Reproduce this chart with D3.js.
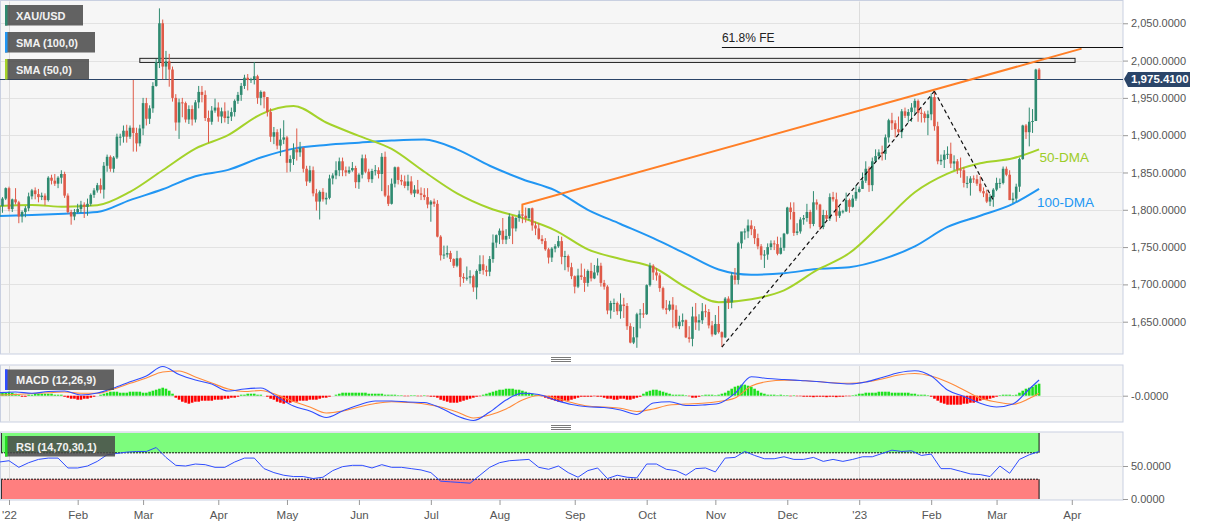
<!DOCTYPE html>
<html><head><meta charset="utf-8">
<script src="https://cdn.jsdelivr.net/npm/d3@7"></script>
<style>body{margin:0;background:#fff;} svg{display:block;font-family:"Liberation Sans",Arial,sans-serif;}</style>
</head><body><svg id="c" width="1207" height="526"></svg>
<script>
// ---------------- DATA ----------------
const firstDay = "2021-12-29";           // first candle (weekday calendar)
// daily candles [open, high, low, close]
const ohlc = [
// Dec 2021
[1791,1811,1789,1805],[1805,1817,1796,1815],[1815,1830,1813,1829],
// Jan 2022
[1829,1831,1798,1801],[1801,1815,1797,1814],[1814,1829,1807,1810],[1810,1812,1782,1791],[1791,1799,1783,1797],
[1797,1805,1790,1802],[1802,1823,1798,1818],[1818,1828,1814,1826],[1826,1830,1814,1821],[1821,1828,1810,1817],
[1817,1823,1813,1819],[1819,1822,1806,1813],[1813,1845,1811,1843],[1843,1847,1834,1839],[1839,1848,1832,1835],
[1835,1845,1829,1843],[1843,1853,1835,1848],[1848,1851,1816,1819],[1819,1822,1795,1797],[1797,1800,1780,1791],
[1791,1801,1786,1797],
// Feb 2022
[1797,1808,1795,1801],[1801,1812,1796,1807],[1807,1810,1789,1804],[1804,1815,1792,1808],
[1808,1822,1805,1820],[1820,1829,1816,1826],[1826,1836,1823,1833],[1833,1842,1822,1827],[1827,1864,1815,1859],
[1859,1874,1851,1871],[1871,1873,1851,1855],[1855,1872,1850,1870],[1870,1902,1868,1898],[1898,1902,1886,1898],
[1898,1913,1890,1906],[1906,1914,1890,1898],[1898,1913,1895,1910],[1910,1974,1878,1903],[1903,1910,1878,1889],
[1889,1914,1885,1909],
// Mar 2022
[1909,1950,1900,1943],[1943,1950,1913,1922],[1922,1940,1915,1936],[1936,1971,1930,1966],
[1966,2002,1965,1998],[1998,2070,1990,2050],[2050,2055,1975,1992],[1992,2013,1975,1999],[1999,2009,1965,1988],
[1988,1992,1945,1950],[1950,1955,1906,1917],[1917,1949,1895,1944],[1944,1950,1924,1943],[1943,1945,1917,1921],
[1921,1940,1915,1935],[1935,1940,1913,1921],[1921,1947,1917,1944],[1944,1966,1936,1958],[1958,1966,1944,1954],
[1954,1960,1919,1923],[1923,1933,1890,1918],[1918,1939,1914,1933],[1933,1949,1930,1937],
// Apr 2022
[1937,1944,1918,1925],
[1925,1937,1916,1932],[1932,1944,1917,1923],[1923,1933,1915,1925],[1925,1937,1919,1931],[1931,1948,1925,1946],
[1946,1958,1942,1954],[1954,1970,1946,1966],[1966,1981,1962,1977],[1977,1982,1960,1974],[1974,1977,1970,1975],
[1975,1998,1968,1979],[1979,1981,1942,1950],[1950,1960,1940,1958],[1958,1959,1936,1951],[1951,1951,1925,1931],
[1931,1936,1891,1898],[1898,1911,1888,1904],[1904,1908,1881,1886],[1886,1909,1872,1894],[1894,1920,1888,1897],
// May 2022
[1897,1899,1850,1863],[1863,1873,1851,1868],[1868,1889,1860,1881],[1881,1909,1866,1877],[1877,1891,1871,1883],
[1883,1884,1850,1855],[1855,1859,1832,1838],[1838,1859,1836,1853],[1853,1858,1818,1822],[1822,1828,1799,1811],
[1811,1826,1787,1824],[1824,1829,1811,1814],[1814,1823,1807,1816],[1816,1847,1814,1842],[1842,1849,1834,1846],
[1846,1865,1841,1853],[1853,1870,1845,1865],[1865,1870,1845,1853],[1853,1858,1845,1850],[1850,1858,1848,1853],
[1853,1864,1851,1856],[1856,1859,1829,1837],
// Jun 2022
[1837,1849,1828,1847],[1847,1874,1842,1869],[1869,1874,1849,1851],
[1851,1855,1837,1841],[1841,1855,1836,1852],[1852,1860,1846,1853],[1853,1857,1842,1848],[1848,1876,1825,1871],
[1871,1878,1817,1819],[1819,1833,1805,1808],[1808,1842,1807,1835],[1835,1858,1830,1857],[1857,1858,1834,1840],
[1840,1847,1833,1838],[1838,1846,1829,1832],[1832,1847,1826,1838],[1838,1845,1820,1822],[1822,1833,1817,1827],
[1827,1840,1821,1822],[1822,1830,1813,1820],[1820,1829,1813,1817],[1817,1829,1802,1807],
// Jul 2022
[1807,1813,1784,1811],
[1811,1815,1804,1808],[1808,1813,1763,1764],[1764,1766,1732,1739],[1739,1752,1734,1740],[1740,1752,1736,1742],
[1742,1745,1730,1734],[1734,1735,1722,1725],[1725,1745,1723,1735],[1735,1736,1697,1710],[1710,1715,1702,1708],
[1708,1724,1705,1709],[1709,1719,1701,1711],[1711,1713,1690,1696],[1696,1720,1680,1718],[1718,1739,1714,1727],
[1727,1739,1713,1719],[1719,1725,1711,1717],[1717,1738,1711,1734],[1734,1767,1729,1756],[1756,1767,1749,1766],
// Aug 2022
[1766,1775,1754,1772],[1772,1789,1754,1760],[1760,1774,1754,1765],[1765,1795,1761,1791],[1791,1792,1754,1775],
[1775,1790,1771,1789],[1789,1799,1784,1794],[1794,1807,1782,1792],[1792,1803,1783,1789],[1789,1802,1786,1802],
[1802,1803,1772,1779],[1779,1784,1766,1775],[1775,1782,1760,1761],[1761,1766,1754,1758],[1758,1762,1745,1747],
[1747,1749,1728,1736],[1736,1750,1730,1748],[1748,1754,1743,1751],[1751,1765,1749,1758],[1758,1764,1727,1737],
[1737,1745,1719,1738],[1738,1740,1717,1723],[1723,1729,1707,1711],
// Sep 2022
[1711,1712,1688,1697],[1697,1721,1695,1712],
[1712,1728,1706,1710],[1710,1721,1690,1702],[1702,1720,1697,1718],[1718,1729,1704,1708],[1708,1726,1707,1716],
[1716,1735,1712,1725],[1725,1729,1697,1702],[1702,1706,1693,1697],[1697,1699,1660,1665],[1665,1678,1654,1675],
[1675,1681,1663,1675],[1675,1677,1659,1664],[1664,1688,1654,1673],[1673,1682,1655,1671],[1671,1675,1639,1644],
[1644,1648,1621,1622],[1622,1643,1620,1629],[1629,1662,1615,1660],[1660,1667,1641,1661],[1661,1675,1655,1660],
// Oct 2022
[1660,1700,1659,1699],[1699,1729,1697,1725],[1725,1727,1706,1716],[1716,1722,1705,1712],[1712,1715,1690,1695],
[1695,1697,1666,1668],[1668,1679,1660,1666],[1666,1678,1664,1673],[1673,1683,1642,1666],[1666,1672,1641,1644],
[1644,1658,1640,1650],[1650,1661,1644,1652],[1652,1653,1628,1629],[1629,1644,1622,1627],[1627,1670,1617,1657],
[1657,1675,1639,1649],[1649,1660,1638,1652],[1652,1675,1647,1664],[1664,1673,1656,1663],[1663,1667,1641,1645],
[1645,1651,1630,1633],
// Nov 2022
[1633,1659,1632,1647],[1647,1671,1634,1636],[1636,1637,1616,1629],[1629,1683,1628,1681],
[1681,1684,1667,1676],[1676,1716,1668,1712],[1712,1722,1700,1706],[1706,1757,1700,1755],[1755,1770,1748,1771],
[1771,1775,1760,1771],[1771,1787,1762,1779],[1779,1786,1766,1774],[1774,1778,1754,1762],[1762,1768,1747,1751],
[1751,1754,1733,1739],[1739,1746,1722,1740],[1740,1755,1733,1750],[1750,1759,1746,1755],[1755,1759,1746,1754],
[1754,1764,1739,1741],[1741,1763,1740,1749],[1749,1769,1745,1768],
// Dec 2022
[1768,1804,1767,1803],[1803,1810,1787,1797],
[1797,1810,1765,1769],[1769,1782,1766,1771],[1771,1790,1768,1787],[1787,1793,1780,1789],[1789,1808,1784,1797],
[1797,1800,1775,1781],[1781,1825,1778,1810],[1810,1814,1800,1807],[1807,1808,1773,1777],[1777,1800,1774,1793],
[1793,1799,1784,1788],[1788,1822,1785,1817],[1817,1824,1811,1814],[1814,1823,1784,1792],[1792,1804,1789,1798],
[1798,1800,1795,1798],[1798,1823,1797,1813],[1813,1815,1796,1804],[1804,1820,1803,1815],[1815,1833,1812,1824],
// Jan 2023
[1824,1831,1823,1828],[1828,1850,1828,1839],[1839,1865,1836,1855],[1855,1858,1824,1833],[1833,1870,1825,1865],
[1865,1881,1863,1872],[1872,1881,1867,1877],[1877,1886,1866,1875],[1875,1901,1867,1897],[1897,1922,1890,1920],
[1920,1930,1907,1916],[1916,1920,1897,1908],[1908,1925,1902,1904],[1904,1935,1896,1932],[1932,1937,1923,1926],
[1926,1935,1917,1931],[1931,1943,1918,1937],[1937,1949,1928,1946],[1946,1948,1918,1930],[1930,1936,1917,1929],
[1929,1932,1917,1923],[1923,1933,1900,1928],
// Feb 2023
[1928,1956,1920,1951],[1951,1959,1906,1912],[1912,1918,1861,1865],
[1865,1874,1860,1867],[1867,1880,1856,1874],[1874,1885,1868,1875],[1875,1890,1856,1862],[1862,1873,1853,1865],
[1865,1868,1848,1854],[1854,1870,1843,1853],[1853,1857,1830,1836],[1836,1845,1829,1836],[1836,1845,1819,1842],
[1842,1846,1836,1841],[1841,1847,1832,1835],[1835,1845,1823,1825],[1825,1830,1817,1822],[1822,1827,1809,1811],
[1811,1821,1805,1817],[1817,1829,1804,1827],
// Mar 2023
[1827,1843,1825,1836],[1836,1842,1829,1836],[1836,1858,1834,1855],
[1855,1858,1845,1847],[1847,1853,1813,1813],[1813,1823,1809,1815],[1815,1835,1811,1831],[1831,1870,1824,1868],
[1868,1914,1867,1913],[1913,1915,1895,1904],[1904,1937,1885,1918],[1918,1935,1903,1919],[1919,1989,1919,1988],
[1988,1990,1975,1975.41]
];
const lastPrice = 1975.41;

// moving averages, sampled every 10 candles (+ last candle)
const smaStep = 10;
const sma100 = [1791.5,1793,1794.8,1797,1813,1827.5,1845,1853.5,1870,1882,1887,1890,1892.8,1894.3,1881,1859,
  1841,1826,1800,1781,1762,1741,1720,1713,1715,1720.5,1723,1733.5,1751,1777,1792,1808,1828];
const sma50 = [1805,1806.5,1804,1806,1824,1853,1882,1900,1928,1939,1917,1899,1881.5,1851,1822,1802,
  1789,1772.5,1747,1734,1723,1696,1676,1680,1692,1719,1742,1782,1823.5,1848.5,1862.5,1869,1881];

// MACD (12,26,9): line and signal sampled every 5 candles (+ last), histogram daily
const macdStep = 5;
const macdLine = [3.0,3.7,2.4,4.2,4.7,0.7,2.7,7.7,14,19.7,29.2,21.2,15.7,11.7,4.7,6.7,7.7,-1.3,-10.3,-15.3,
  -21.8,-15.3,-9.3,-5.3,-5.3,-6.3,-6.8,-12.3,-20.3,-24.8,-16.3,-4.3,2.4,1.2,-4.3,-8.8,-11,-11.8,-14.3,-18.8,
  -7.3,-6,-9.8,-9.3,-7.8,2.4,19,17.2,16.2,15.2,14.2,12.7,11.7,13.7,18.2,23,25,19.7,5.7,-0.8,-7.6,-11.3,-8.3,6.7,15.7];
const macdSignal = [0.7,1.2,2.2,3,3.7,2.4,2.4,6.7,12.4,17.7,23.7,24.7,18.7,12.7,6.7,4.2,5.2,0.7,-5.8,-11.3,
  -17.3,-15.3,-11.3,-7.8,-6,-6.8,-8.3,-11.3,-16.3,-22.3,-19.3,-13.3,-4.3,0.2,-2.3,-6.8,-10.3,-11.3,-12.6,-15.8,
  -13.3,-9.3,-8.3,-7.6,-5.8,-2.3,9.7,14.2,15.4,15.2,14.2,13,12.5,13.7,16.7,20.7,22.2,19.7,13.7,5.7,-2.6,-6.3,-8.6,-2.8,2.4];
const macdHist = [
3,3,3,4,3,2,1, -1,-1, 1,1,2,2,2,2,2,2,1,1,1, -1,-2,-3,-3,-4,-4,-3,-3,-2,-1, 0,
1,2,3,4,4,4,3,3,3,4,4,4,4,3,3,4,5,6,7,8,7,5,2,
-2,-4,-6,-7,-8,-7,-6,-6,-5,-5,-5,-5,-4,-4,-4,-3,-3,-2,-2,-1,
1,1,2,2,2,1,1,0,
-1,-3,-4,-6,-7,-8,-7,-7,-6,-6,-5,-5,-5,-4,-4,-4,-3,-2,-2,-1, 0,
1,2,3,3,3,3,3,3,3,3,2,2,2,2,2,1,1,1,1,
0.5,0.5,-0.5,-0.5,0.5,0.5,-0.5,-0.5,0.5,-0.5,-1,-1,
-2,-4,-5,-6,-7,-7,-7,-6,-5,-4,-3,-2,-1,-0.5,
1,2,3,4,5,6,6,7,7,7,6,6,5,4,3,2,1, 0.5,-0.5,
-2,-3,-4,-5,-6,-6,-5,-5,-4,-3,-2,-1, -1,-1,-1,-0.5,-1,-1,
-2,-3,-3,-4,-4,-3,-3,-4,-4,-3,-2,-1,
2,4,5,6,6,5,4,3,2, 1,1,1,1,0.5,-0.5, -2,-2,-1, 0.5,1,1,1,0.5,1,2,
3,5,7,9,10,11,11,10,9,7,5,3,
2,1,1,1,0.5,1,0.5,0.5,-0.5,0.5,-0.5,-0.5,
-1,-1,-1,-1.5,-1,-1,-1,-1.5,-1,-1,-1.5,-1,-1,-0.5,-0.5,0.5,1,
2,2,3,3,3,3,4,4,4,4,3,3,3,3,3,3,2,2,1,1,
1,0.5,-1,-3,
-5,-7,-8,-9,-9,-9,-9,-9,-8,-8,-7,-7,-6,-5,-4,-4,-3,-2,-1,
0.5,1,1,1,0.5,1, 3,5,7,8,9,11,12];

// RSI (14,70,30,1), sampled every 3 candles
const rsiStep = 3;
const rsi = [56,58,48,55,60,62,62,47,47,50, 57,67,69,71,72,72,78,63,51,50, 53,52,48,48,56,62,62,46,40,36,
  34,34,31,33,43,49,51,51,47,52, 48,48,46,44,40,27,26,25,24,36, 48,55,58,59,60,48,45,50,40,33,
  43,47,31,36,33,32,53,53,45,43, 36,46,47,41,62,63,72,66,61,61, 64,60,60,63,57,60,57,60,64,64,
  69,74,72,73,66,68,46,46,42,38, 37,34,50,39,60,67,72];
const rsiLevels = {upper:70, lower:30, max:100, min:0};

// axes
const priceTicks = [1650,1700,1750,1800,1850,1900,1950,2000,2050];
const macdTicks = [0], macdTickLabels = ["-0.0000"];
const rsiTicks = [50, 0];
const monthLabels = ["'22","Feb","Mar","Apr","May","Jun","Jul","Aug","Sep","Oct","Nov","Dec","'23","Feb","Mar","Apr"];

// drawings
const trendLine = [["2022-08-10",1795],["2022-08-10",1807],["2023-04-06",2016]];
const feLevel = {from:"2022-11-03", value:2018, label:"61.8% FE"};
const resistZone = {from:"2022-02-28", to:"2023-04-04", low:1997.5, high:2003};
const dashed1 = [["2022-11-03",1616],["2023-02-02",1959]];
const dashed2 = [["2023-02-02",1959],["2023-02-28",1813]];
const legends = [{t:"XAU/USD",c:"#2f8a70"},{t:"SMA (100,0)",c:"#2196f3"},{t:"SMA (50,0)",c:"#a4d22a"}];

// ---------------- LAYOUT ----------------
const W = 1207, PR = 1123;
const main = {top:0.5, bottom:354};
const mac = {top:365, bottom:422};
const rsiP = {top:432, bottom:500};
const UP = "#2f8a70", DOWN = "#df5a48";
const PANEL = "#f6f6f6", BORDER = "#c9d0e1", GRID = "#e2e2e2";
const fmt4 = d3.format(",.4f");

const svg = d3.select("#c");
const defs = svg.append("defs");
[["clipMain",main],["clipMacd",mac],["clipRsi",rsiP]].forEach(([id,p])=>{
  defs.append("clipPath").attr("id",id).append("rect").attr("x",0).attr("y",p.top).attr("width",PR).attr("height",p.bottom-p.top);
});

// weekday calendar
const parse = d3.timeParse("%Y-%m-%d"), key = d3.timeFormat("%Y-%m-%d");
const days = [];
for (let d = parse(firstDay); days.length < 350; d = d3.timeDay.offset(d,1)) {
  if (d.getDay()!==0 && d.getDay()!==6) days.push(d);
}
const dayIdx = new Map(days.map((d,i)=>[key(d),i]));
const x = d3.scaleLinear().domain([0,343.6]).range([-0.8,1122.8]);
const xd = s => x(dayIdx.get(s));
const y = d3.scaleLinear().domain([1606.7,2081.2]).range([354,0]);
const ym = d3.scaleLinear().domain([-26.3,30.7]).range([422,365]);
const yr = d3.scaleLinear().domain([rsiLevels.min,rsiLevels.max]).range([499,433]);

// month ticks (first weekday of each month)
const monthIdx = [];
days.forEach((d,i)=>{ if(i>0 && d.getMonth()!==days[i-1].getMonth()) monthIdx.push(i); });
const ticks = monthIdx.slice(0, monthLabels.length);

// panels
[main,mac,rsiP].forEach(p=>{
  svg.append("rect").attr("x",0.5).attr("y",p.top).attr("width",PR-0.5).attr("height",p.bottom-p.top)
    .attr("fill",PANEL).attr("stroke",BORDER);
});

// horizontal grids
svg.append("g").selectAll("line").data(priceTicks).join("line")
  .attr("x1",1).attr("x2",PR).attr("y1",d=>Math.round(y(d))+0.5).attr("y2",d=>Math.round(y(d))+0.5)
  .attr("stroke",GRID);
svg.append("line").attr("x1",1).attr("x2",PR).attr("y1",Math.round(ym(0))+0.5).attr("y2",Math.round(ym(0))+0.5).attr("stroke",GRID);

// year gridlines
[0,12].forEach(t=>{
  const xx = Math.round(x(ticks[t]))+0.5;
  [main,mac,rsiP].forEach(p=>svg.append("line").attr("x1",xx).attr("x2",xx).attr("y1",p.top+1).attr("y2",p.bottom-1).attr("stroke","#dcdcdc"));
});

// RSI zones
const zx0 = 1, zx1 = x(ohlc.length-1);
const rz = svg.append("g").attr("clip-path","url(#clipRsi)");
rz.append("rect").attr("x",zx0).attr("width",zx1-zx0).attr("y",yr(rsiLevels.max)).attr("height",yr(rsiLevels.upper)-yr(rsiLevels.max)).attr("fill","#7dfc7d");
rz.append("rect").attr("x",zx0).attr("width",zx1-zx0).attr("y",yr(rsiLevels.lower)).attr("height",yr(rsiLevels.min)-yr(rsiLevels.lower)).attr("fill","#ff7f7f");
rz.append("line").attr("x1",zx0).attr("x2",zx1).attr("y1",yr(rsiLevels.upper)).attr("y2",yr(rsiLevels.upper)).attr("stroke","#111").attr("stroke-dasharray","2,1");
rz.append("line").attr("x1",zx0).attr("x2",zx1).attr("y1",yr(rsiLevels.lower)).attr("y2",yr(rsiLevels.lower)).attr("stroke","#111").attr("stroke-dasharray","2,1");
rz.append("line").attr("x1",zx1).attr("x2",zx1).attr("y1",yr(rsiLevels.max)).attr("y2",yr(rsiLevels.upper)).attr("stroke","#111");
rz.append("line").attr("x1",zx1).attr("x2",zx1).attr("y1",yr(rsiLevels.lower)).attr("y2",yr(rsiLevels.min)).attr("stroke","#111");
rz.append("line").attr("x1",1.5).attr("x2",1.5).attr("y1",yr(rsiLevels.max)).attr("y2",yr(rsiLevels.upper)).attr("stroke","#333");
rz.append("line").attr("x1",1.5).attr("x2",1.5).attr("y1",yr(rsiLevels.lower)).attr("y2",yr(rsiLevels.min)).attr("stroke","#333");
svg.append("line").attr("x1",1).attr("x2",PR).attr("y1",Math.round(yr(50))+0.5).attr("y2",Math.round(yr(50))+0.5).attr("stroke","#dedede");

// ---- main chart ----
const gm = svg.append("g").attr("clip-path","url(#clipMain)");

// resistance zone
gm.append("rect").attr("x",xd(resistZone.from)).attr("width",xd(resistZone.to)-xd(resistZone.from))
  .attr("y",y(resistZone.high)).attr("height",y(resistZone.low)-y(resistZone.high))
  .attr("fill","#ececec").attr("stroke","#222").attr("stroke-width",1);

// current price line
gm.append("line").attr("x1",0).attr("x2",PR).attr("y1",Math.round(y(lastPrice))+0.5).attr("y2",Math.round(y(lastPrice))+0.5)
  .attr("stroke","#2b4569").attr("stroke-width",1);

// moving averages
const smaIdx = d3.range(0, ohlc.length-8, smaStep).concat([ohlc.length-1]);
const smaLine = d3.line().x((d,i)=>x(smaIdx[i])).y(d=>y(d)).curve(d3.curveMonotoneX);
gm.append("path").attr("d",smaLine(sma100)).attr("fill","none").attr("stroke","#2196f3").attr("stroke-width",2);
gm.append("path").attr("d",smaLine(sma50)).attr("fill","none").attr("stroke","#a4d22a").attr("stroke-width",2);

// candles
const cg = gm.append("g");
cg.selectAll("line").data(ohlc).join("line")
  .attr("x1",(d,i)=>x(i)).attr("x2",(d,i)=>x(i))
  .attr("y1",d=>y(d[1])).attr("y2",d=>y(d[2]))
  .attr("stroke",d=>d[3]>=d[0]?UP:DOWN).attr("stroke-width",1);
cg.selectAll("rect").data(ohlc).join("rect")
  .attr("x",(d,i)=>x(i)-1.3).attr("width",2.6)
  .attr("y",d=>y(Math.max(d[0],d[3])))
  .attr("height",d=>Math.max(1,Math.abs(y(d[0])-y(d[3]))))
  .attr("fill",d=>d[3]>=d[0]?UP:DOWN);

// trendline
const tl = d3.line().x(d=>xd(d[0])).y(d=>y(d[1]));
gm.append("path").attr("d",tl(trendLine)).attr("fill","none").attr("stroke","#ff7f27").attr("stroke-width",2);
// dashed lines
[dashed1,dashed2].forEach(dl=>gm.append("path").attr("d",tl(dl)).attr("fill","none").attr("stroke","#111")
  .attr("stroke-width",1.2).attr("stroke-dasharray","4,3"));
// 61.8% FE
gm.append("line").attr("x1",xd(feLevel.from)).attr("x2",PR).attr("y1",Math.round(y(feLevel.value))+0.5).attr("y2",Math.round(y(feLevel.value))+0.5)
  .attr("stroke","#111").attr("stroke-width",1);
svg.append("text").attr("x",xd(feLevel.from)).attr("y",y(feLevel.value)-5).text(feLevel.label)
  .attr("font-size",12).attr("fill","#222");

// DMA labels
svg.append("text").attr("x",x(ohlc.length-1)+0.5).attr("y",y(sma50[sma50.length-1])+13).text("50-DMA")
  .attr("font-size",13.5).attr("fill","#9ccc28");
svg.append("text").attr("x",x(ohlc.length-1)-2).attr("y",y(sma100[sma100.length-1])+18).text("100-DMA")
  .attr("font-size",13.5).attr("fill","#2196f3");

// ---- MACD ----
const gmc = svg.append("g").attr("clip-path","url(#clipMacd)");
gmc.selectAll("rect").data(macdHist).join("rect")
  .attr("x",(d,i)=>x(i)-1.3).attr("width",2.6)
  .attr("y",d=>Math.min(ym(d),ym(0))).attr("height",d=>Math.abs(ym(d)-ym(0)))
  .attr("fill",d=>d>=0?"#1ee01e":"#ff0000");
const macdIdx = d3.range(0, ohlc.length-3, macdStep).concat([ohlc.length-1]);
const ml = d3.line().x((d,i)=>x(macdIdx[i])).y(d=>ym(d)).curve(d3.curveMonotoneX);
gmc.append("path").attr("d",ml(macdSignal)).attr("fill","none").attr("stroke","#ff8a3a").attr("stroke-width",1.1);
gmc.append("path").attr("d",ml(macdLine)).attr("fill","none").attr("stroke","#2f4dff").attr("stroke-width",1.1);

// ---- RSI ----
const rl = d3.line().x((d,i)=>x(i*rsiStep)).y(d=>yr(d));
svg.append("g").attr("clip-path","url(#clipRsi)").append("path").attr("d",rl(rsi))
  .attr("fill","none").attr("stroke","#2f4dff").attr("stroke-width",1);

// ---- right axes ----
function styleAxis(g){
  g.select(".domain").remove();
  g.selectAll(".tick line").attr("stroke","#999");
  g.selectAll(".tick text").attr("fill","#555").attr("font-size",11).attr("font-family","Liberation Sans, Arial, sans-serif");
}
svg.append("g").attr("transform",`translate(${PR},0)`)
  .call(d3.axisRight(y).tickValues(priceTicks).tickFormat(fmt4).tickSize(5).tickPadding(3)).call(styleAxis);
svg.append("g").attr("transform",`translate(${PR},0)`)
  .call(d3.axisRight(ym).tickValues(macdTicks).tickFormat((d,i)=>macdTickLabels[i]).tickSize(5).tickPadding(3)).call(styleAxis);
svg.append("g").attr("transform",`translate(${PR},0)`)
  .call(d3.axisRight(yr).tickValues(rsiTicks).tickFormat(fmt4).tickSize(5).tickPadding(3)).call(styleAxis);

// price label
const py = y(lastPrice);
svg.append("path").attr("d",`M${PR+1},${py} L${PR+5},${py-7} L${PR+67},${py-7} L${PR+67},${py+8} L${PR+5},${py+8} Z`)
  .attr("fill","#2b4569");
svg.append("text").attr("x",PR+8).attr("y",py+4.5).text(fmt4(lastPrice))
  .attr("fill","#fff").attr("font-size",11.5).attr("font-weight","bold");

// ---- x axis ----
const xa = svg.append("g").attr("transform",`translate(0,${rsiP.bottom})`)
  .call(d3.axisBottom(x).tickValues(ticks).tickFormat((d,i)=>monthLabels[i]).tickSize(5).tickPadding(6));
styleAxis(xa);
xa.selectAll(".tick text").attr("font-size",11.5);

// panel handles
[[359],[427]].forEach(([hy])=>{
  [-2,0,2].forEach(o=>svg.append("line").attr("x1",551).attr("x2",571).attr("y1",hy+o+0.5).attr("y2",hy+o+0.5).attr("stroke","#7a7a7a"));
});

// legends
function legendBox(ly, txt, col, w){
  svg.append("rect").attr("x",5).attr("y",ly).attr("width",w).attr("height",20.5).attr("fill","rgba(72,72,72,0.85)");
  svg.append("rect").attr("x",5).attr("y",ly).attr("width",2.5).attr("height",20.5).attr("fill",col);
  svg.append("text").attr("x",16).attr("y",ly+14.5).text(txt).attr("fill","#f2f2f2").attr("font-size",11).attr("font-weight","bold");
}
legendBox(5, legends[0].t, legends[0].c, 78);
legendBox(32, legends[1].t, legends[1].c, 90);
legendBox(59, legends[2].t, legends[2].c, 84);
legendBox(369.5, "MACD (12,26,9)", "#2f4dff", 109);
legendBox(436, "RSI (14,70,30,1)", "#22dd22", 110);
</script></body></html>
